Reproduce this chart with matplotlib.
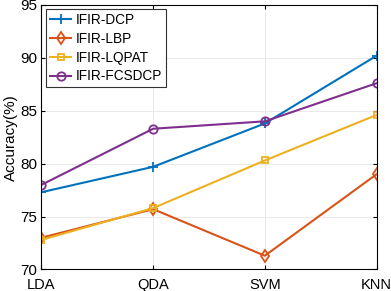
import matplotlib
matplotlib.use("Agg")
import matplotlib.pyplot as plt

classifiers = ["LDA", "QDA", "SVM", "KNN"]
dcp = [77.3, 79.7, 83.8, 90.2]
lbp = [73.0, 75.7, 71.3, 79.0]
lqpat = [72.8, 75.8, 80.3, 84.6]
fcsdcp = [78.0, 83.3, 84.0, 87.6]

plt.rcParams["font.family"] = ["Liberation Sans", "DejaVu Sans"]
plt.rcParams["font.size"] = 11

fig = plt.figure(figsize=(3.91, 2.91), dpi=100)
ax = fig.add_axes([0.106, 0.074, 0.857, 0.909])
x = range(len(classifiers))

ax.plot(x, dcp, color="#0072BD", marker="+", ms=7, mew=1.3, lw=1.5, label="IFIR-DCP")
ax.plot(x, lbp, color="#D95319", marker="d", ms=6, mfc="none", mew=1.3, lw=1.5, label="IFIR-LBP")
ax.plot(x, lqpat, color="#EDB120", marker="s", ms=5, mfc="none", mew=1.3, lw=1.5, label="IFIR-LQPAT")
ax.plot(x, fcsdcp, color="#7E2F8E", marker="o", ms=6, mfc="none", mew=1.3, lw=1.5, label="IFIR-FCSDCP")

ax.set_xlim(0, 3)
ax.set_ylim(70, 95)
ax.set_xticks(list(x))
ax.set_xticklabels(classifiers)
ax.set_yticks([70, 75, 80, 85, 90, 95])
ax.set_ylabel("Accuracy(%)", labelpad=2)
ax.grid(True, color="#e6e6e6", lw=0.6)
ax.tick_params(direction="in", top=True, right=True, length=3, pad=3)
ax.tick_params(axis="x", pad=6, labelsize=10.5)
for s in ax.spines.values():
    s.set_linewidth(0.8)

leg = ax.legend(loc="upper left", fancybox=False, edgecolor="#333333", fontsize=9.8,
                handlelength=1.6, handletextpad=0.3, labelspacing=0.35,
                borderpad=0.3, borderaxespad=0.3, framealpha=1)
leg.get_frame().set_linewidth(0.8)

fig.savefig("out.png", dpi=100)
